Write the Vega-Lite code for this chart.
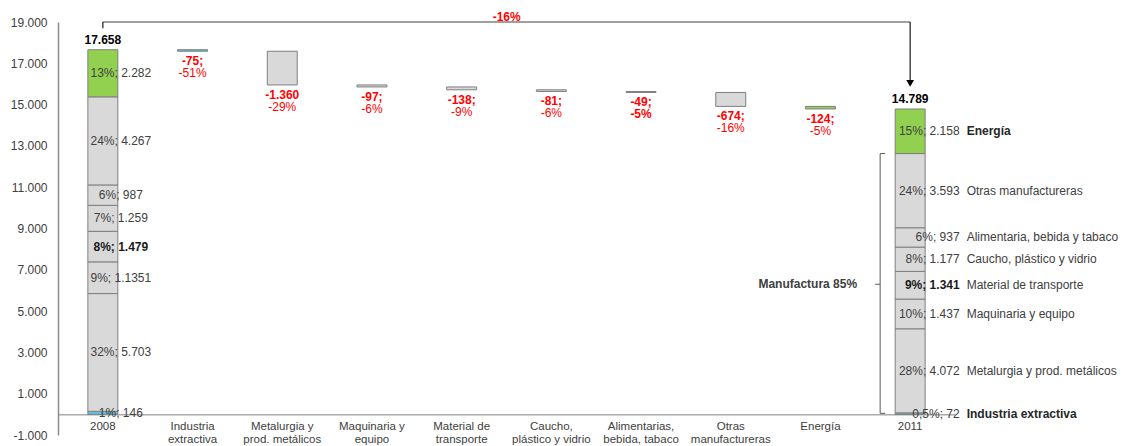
{
  "$schema": "https://vega.github.io/schema/vega-lite/v6.json",
  "width": 897,
  "height": 413,
  "autosize": {"type": "none"},
  "padding": {"left": 58, "top": 22, "right": 171, "bottom": 11},
  "background": "white",
  "config": {
    "font": "Liberation Sans",
    "view": {"stroke": null},
    "locale": {"number": {"decimal": ",", "thousands": ".", "grouping": [3], "currency": ["", " €"], "minus": "-"}},
    "text": {"font": "Liberation Sans", "fontSize": 12}
  },
  "datasets": {
    "segs": [
      {"cat": "2008", "sector": "Industria extractiva", "rank": 1, "value": 146, "label": "1%; 146", "name": ""},
      {"cat": "2008", "sector": "Metalurgia y prod. metálicos", "rank": 2, "value": 5703, "label": "32%; 5.703", "name": ""},
      {"cat": "2008", "sector": "Maquinaria y equipo", "rank": 3, "value": 1535, "label": "9%; 1.1351", "name": ""},
      {"cat": "2008", "sector": "Material de transporte", "rank": 4, "value": 1479, "label": "8%;  1.479", "name": ""},
      {"cat": "2008", "sector": "Caucho, plástico y vidrio", "rank": 5, "value": 1259, "label": "7%; 1.259", "name": ""},
      {"cat": "2008", "sector": "Alimentarias, bebida, tabaco", "rank": 6, "value": 987, "label": "6%; 987", "name": ""},
      {"cat": "2008", "sector": "Otras manufactureras", "rank": 7, "value": 4267, "label": "24%; 4.267", "name": ""},
      {"cat": "2008", "sector": "Energía", "rank": 8, "value": 2282, "label": "13%; 2.282", "name": ""},
      {"cat": "2011", "sector": "Industria extractiva", "rank": 1, "value": 72, "label": "0,5%; 72", "name": "Industria extractiva"},
      {"cat": "2011", "sector": "Metalurgia y prod. metálicos", "rank": 2, "value": 4072, "label": "28%; 4.072", "name": "Metalurgia y prod. metálicos"},
      {"cat": "2011", "sector": "Maquinaria y equipo", "rank": 3, "value": 1437, "label": "10%;  1.437", "name": "Maquinaria y equipo"},
      {"cat": "2011", "sector": "Material de transporte", "rank": 4, "value": 1341, "label": "9%;  1.341", "name": "Material de transporte"},
      {"cat": "2011", "sector": "Caucho, plástico y vidrio", "rank": 5, "value": 1177, "label": "8%;  1.177", "name": "Caucho, plástico y vidrio"},
      {"cat": "2011", "sector": "Alimentarias, bebida, tabaco", "rank": 6, "value": 937, "label": "6%;  937", "name": "Alimentaria, bebida y tabaco"},
      {"cat": "2011", "sector": "Otras manufactureras", "rank": 7, "value": 3593, "label": "24%; 3.593", "name": "Otras manufactureras"},
      {"cat": "2011", "sector": "Energía", "rank": 8, "value": 2158, "label": "15%; 2.158", "name": "Energía"}
    ],
    "deltas": [
      {"cat": "Industria extractiva", "from": 17658, "to": 17583, "v": "-75;", "pct": "-51%"},
      {"cat": "Metalurgia y prod. metálicos", "from": 17583, "to": 15952, "v": "-1.360", "pct": "-29%"},
      {"cat": "Maquinaria y equipo", "from": 15952, "to": 15855, "v": "-97;", "pct": "-6%"},
      {"cat": "Material de transporte", "from": 15855, "to": 15717, "v": "-138;", "pct": "-9%"},
      {"cat": "Caucho, plástico y vidrio", "from": 15717, "to": 15636, "v": "-81;", "pct": "-6%"},
      {"cat": "Alimentarias, bebida, tabaco", "from": 15636, "to": 15587, "v": "-49;", "pct": "-5%"},
      {"cat": "Otras manufactureras", "from": 15587, "to": 14913, "v": "-674;", "pct": "-16%"},
      {"cat": "Energía", "from": 14913, "to": 14789, "v": "-124;", "pct": "-5%"}
    ],
    "totals": [
      {"cat": "2008", "total": 17658, "label": "17.658"},
      {"cat": "2011", "total": 14789, "label": "14.789"}
    ],
    "connH": [{"cat": "2008", "b": "2011", "y": 19000}],
    "connV": [
      {"cat": "2008", "top": 19000, "bot": 18700},
      {"cat": "2011", "top": 19000, "bot": 16100}
    ],
    "arrow": [{"cat": "2011", "y": 16030}],
    "change": [{"cat": "Material de transporte", "y": 19000, "label": "-16%"}],
    "bracketV": [{"cat": "2011", "top": 12629, "bot": 50}],
    "bracketTicks": [{"cat": "2011", "y": 12629}, {"cat": "2011", "y": 50}],
    "bracketMid": [{"cat": "2011", "y": 6300, "label": "Manufactura 85%"}]
  },
  "layer": [
    {
      "data": {"name": "segs"},
      "transform": [{"stack": "value", "groupby": ["cat"], "sort": [{"field": "rank", "order": "ascending"}], "as": ["lo", "hi"]}],
      "mark": {"type": "bar", "stroke": "#7f7f7f", "strokeWidth": 1},
      "encoding": {
        "x": {
          "field": "cat", "type": "nominal",
          "scale": {"domain": ["2008", "Industria extractiva", "Metalurgia y prod. metálicos", "Maquinaria y equipo", "Material de transporte", "Caucho, plástico y vidrio", "Alimentarias, bebida, tabaco", "Otras manufactureras", "Energía", "2011"], "paddingInner": 0.666, "paddingOuter": 0.333},
          "axis": {
            "title": null, "orient": "bottom", "offset": -20.65, "domainColor": "#808080", "domainWidth": 1,
            "ticks": false, "labelPadding": 6, "labelFont": "Liberation Sans", "labelFontSize": 11.5, "labelColor": "#404040",
            "labelAngle": 0, "labelBaseline": "top", "labelAlign": "center", "labelLineHeight": 13, "labelOverlap": false, "labelLimit": 0,
            "labelExpr": "datum.value == 'Industria extractiva' ? ['Industria','extractiva'] : datum.value == 'Metalurgia y prod. metálicos' ? ['Metalurgia y','prod. metálicos'] : datum.value == 'Maquinaria y equipo' ? ['Maquinaria y','equipo'] : datum.value == 'Material de transporte' ? ['Material de','transporte'] : datum.value == 'Caucho, plástico y vidrio' ? ['Caucho,','plástico y vidrio'] : datum.value == 'Alimentarias, bebida, tabaco' ? ['Alimentarias,','bebida, tabaco'] : datum.value == 'Otras manufactureras' ? ['Otras','manufactureras'] : datum.label"
          }
        },
        "y": {
          "field": "lo", "type": "quantitative",
          "scale": {"domain": [-1000, 19000], "nice": false, "zero": false},
          "axis": {"title": null, "values": [-1000, 1000, 3000, 5000, 7000, 9000, 11000, 13000, 15000, 17000, 19000], "format": ",d", "ticks": false, "grid": false, "domainColor": "#8c8c8c", "domainWidth": 1.5, "labelPadding": 11, "labelFontSize": 12, "labelColor": "#404040", "labelFont": "Liberation Sans"}
        },
        "y2": {"field": "hi"},
        "color": {
          "field": "sector", "type": "nominal", "legend": null,
          "scale": {"domain": ["Industria extractiva", "Metalurgia y prod. metálicos", "Maquinaria y equipo", "Material de transporte", "Caucho, plástico y vidrio", "Alimentarias, bebida, tabaco", "Otras manufactureras", "Energía"], "range": ["#5bc5e5", "#d9d9d9", "#d9d9d9", "#d9d9d9", "#d9d9d9", "#d9d9d9", "#d9d9d9", "#92d050"]}
        }
      }
    },
    {
      "data": {"name": "deltas"},
      "mark": {"type": "bar", "stroke": "#7f7f7f", "strokeWidth": 1},
      "encoding": {
        "x": {"field": "cat", "type": "nominal"},
        "y": {"field": "from", "type": "quantitative"},
        "y2": {"field": "to"},
        "color": {"field": "cat", "type": "nominal", "legend": null}
      }
    },
    {
      "data": {"name": "segs"},
      "transform": [
        {"stack": "value", "groupby": ["cat"], "sort": [{"field": "rank", "order": "ascending"}], "as": ["lo", "hi"]},
        {"fold": ["lo", "hi"], "as": ["edge", "v"]},
        {"filter": "datum.cat == '2008' && datum.sector != 'Material de transporte'"}
      ],
      "mark": {"type": "text", "align": "center", "dx": 18, "baseline": "middle", "fontSize": 12, "color": "#404040"},
      "encoding": {
        "x": {"field": "cat", "type": "nominal"},
        "y": {"aggregate": "mean", "field": "v", "type": "quantitative"},
        "text": {"field": "label", "type": "nominal"},
        "detail": {"field": "sector", "type": "nominal"}
      }
    },
    {
      "data": {"name": "segs"},
      "transform": [
        {"stack": "value", "groupby": ["cat"], "sort": [{"field": "rank", "order": "ascending"}], "as": ["lo", "hi"]},
        {"fold": ["lo", "hi"], "as": ["edge", "v"]},
        {"filter": "datum.cat == '2008' && datum.sector == 'Material de transporte'"}
      ],
      "mark": {"type": "text", "align": "center", "dx": 18, "baseline": "middle", "fontSize": 12, "fontWeight": "bold", "color": "#1a1a1a"},
      "encoding": {
        "x": {"field": "cat", "type": "nominal"},
        "y": {"aggregate": "mean", "field": "v", "type": "quantitative"},
        "text": {"field": "label", "type": "nominal"},
        "detail": {"field": "sector", "type": "nominal"}
      }
    },
    {
      "data": {"name": "segs"},
      "transform": [
        {"stack": "value", "groupby": ["cat"], "sort": [{"field": "rank", "order": "ascending"}], "as": ["lo", "hi"]},
        {"fold": ["lo", "hi"], "as": ["edge", "v"]},
        {"filter": "datum.cat == '2011' && datum.sector != 'Material de transporte'"}
      ],
      "mark": {"type": "text", "align": "right", "dx": 49.5, "baseline": "middle", "fontSize": 12, "color": "#404040"},
      "encoding": {
        "x": {"field": "cat", "type": "nominal"},
        "y": {"aggregate": "mean", "field": "v", "type": "quantitative"},
        "text": {"field": "label", "type": "nominal"},
        "detail": {"field": "sector", "type": "nominal"}
      }
    },
    {
      "data": {"name": "segs"},
      "transform": [
        {"stack": "value", "groupby": ["cat"], "sort": [{"field": "rank", "order": "ascending"}], "as": ["lo", "hi"]},
        {"fold": ["lo", "hi"], "as": ["edge", "v"]},
        {"filter": "datum.cat == '2011' && datum.sector == 'Material de transporte'"}
      ],
      "mark": {"type": "text", "align": "right", "dx": 49.5, "baseline": "middle", "fontSize": 12, "fontWeight": "bold", "color": "#1a1a1a"},
      "encoding": {
        "x": {"field": "cat", "type": "nominal"},
        "y": {"aggregate": "mean", "field": "v", "type": "quantitative"},
        "text": {"field": "label", "type": "nominal"},
        "detail": {"field": "sector", "type": "nominal"}
      }
    },
    {
      "data": {"name": "segs"},
      "transform": [
        {"stack": "value", "groupby": ["cat"], "sort": [{"field": "rank", "order": "ascending"}], "as": ["lo", "hi"]},
        {"fold": ["lo", "hi"], "as": ["edge", "v"]},
        {"filter": "datum.cat == '2011' && datum.sector != 'Energía' && datum.sector != 'Industria extractiva'"}
      ],
      "mark": {"type": "text", "align": "left", "dx": 56.5, "baseline": "middle", "fontSize": 12, "color": "#404040"},
      "encoding": {
        "x": {"field": "cat", "type": "nominal"},
        "y": {"aggregate": "mean", "field": "v", "type": "quantitative"},
        "text": {"field": "name", "type": "nominal"},
        "detail": {"field": "sector", "type": "nominal"}
      }
    },
    {
      "data": {"name": "segs"},
      "transform": [
        {"stack": "value", "groupby": ["cat"], "sort": [{"field": "rank", "order": "ascending"}], "as": ["lo", "hi"]},
        {"fold": ["lo", "hi"], "as": ["edge", "v"]},
        {"filter": "datum.cat == '2011' && (datum.sector == 'Energía' || datum.sector == 'Industria extractiva')"}
      ],
      "mark": {"type": "text", "align": "left", "dx": 56.5, "baseline": "middle", "fontSize": 12, "fontWeight": "bold", "color": "#262626"},
      "encoding": {
        "x": {"field": "cat", "type": "nominal"},
        "y": {"aggregate": "mean", "field": "v", "type": "quantitative"},
        "text": {"field": "name", "type": "nominal"},
        "detail": {"field": "sector", "type": "nominal"}
      }
    },
    {
      "data": {"name": "deltas"},
      "mark": {"type": "text", "align": "center", "dy": 10, "baseline": "middle", "fontSize": 12, "fontWeight": "bold", "color": "#ff0000"},
      "encoding": {
        "x": {"field": "cat", "type": "nominal"},
        "y": {"field": "to", "type": "quantitative"},
        "text": {"field": "v", "type": "nominal"}
      }
    },
    {
      "data": {"name": "deltas"},
      "transform": [{"filter": "datum.cat != 'Alimentarias, bebida, tabaco'"}],
      "mark": {"type": "text", "align": "center", "dy": 22, "baseline": "middle", "fontSize": 12, "color": "#ff0000"},
      "encoding": {
        "x": {"field": "cat", "type": "nominal"},
        "y": {"field": "to", "type": "quantitative"},
        "text": {"field": "pct", "type": "nominal"}
      }
    },
    {
      "data": {"name": "deltas"},
      "transform": [{"filter": "datum.cat == 'Alimentarias, bebida, tabaco'"}],
      "mark": {"type": "text", "align": "center", "dy": 22, "baseline": "middle", "fontSize": 12, "fontWeight": "bold", "color": "#ff0000"},
      "encoding": {
        "x": {"field": "cat", "type": "nominal"},
        "y": {"field": "to", "type": "quantitative"},
        "text": {"field": "pct", "type": "nominal"}
      }
    },
    {
      "data": {"name": "totals"},
      "mark": {"type": "text", "align": "center", "dy": -10, "baseline": "middle", "fontSize": 12, "fontWeight": "bold", "color": "#000000"},
      "encoding": {
        "x": {"field": "cat", "type": "nominal"},
        "y": {"field": "total", "type": "quantitative"},
        "text": {"field": "label", "type": "nominal"}
      }
    },
    {
      "data": {"name": "connH"},
      "mark": {"type": "rule", "color": "#404040", "strokeWidth": 1.2},
      "encoding": {
        "x": {"field": "cat", "type": "nominal"},
        "x2": {"field": "b"},
        "y": {"field": "y", "type": "quantitative"}
      }
    },
    {
      "data": {"name": "connV"},
      "mark": {"type": "rule", "color": "#1a1a1a", "strokeWidth": 1.2},
      "encoding": {
        "x": {"field": "cat", "type": "nominal"},
        "y": {"field": "top", "type": "quantitative"},
        "y2": {"field": "bot"}
      }
    },
    {
      "data": {"name": "arrow"},
      "mark": {"type": "point", "shape": "triangle-down", "filled": true, "color": "#000000", "size": 60, "opacity": 1},
      "encoding": {
        "x": {"field": "cat", "type": "nominal"},
        "y": {"field": "y", "type": "quantitative"}
      }
    },
    {
      "data": {"name": "change"},
      "mark": {"type": "text", "align": "center", "dx": 45, "dy": -5, "baseline": "middle", "fontSize": 12, "fontWeight": "bold", "color": "#ff0000"},
      "encoding": {
        "x": {"field": "cat", "type": "nominal"},
        "y": {"field": "y", "type": "quantitative"},
        "text": {"field": "label", "type": "nominal"}
      }
    },
    {
      "data": {"name": "bracketV"},
      "mark": {"type": "rule", "color": "#595959", "strokeWidth": 1, "xOffset": -30},
      "encoding": {
        "x": {"field": "cat", "type": "nominal"},
        "y": {"field": "top", "type": "quantitative"},
        "y2": {"field": "bot"}
      }
    },
    {
      "data": {"name": "bracketTicks"},
      "mark": {"type": "rule", "color": "#595959", "strokeWidth": 1, "xOffset": -30, "x2Offset": -25},
      "encoding": {
        "x": {"field": "cat", "type": "nominal"},
        "x2": {"field": "cat"},
        "y": {"field": "y", "type": "quantitative"}
      }
    },
    {
      "data": {"name": "bracketMid"},
      "mark": {"type": "rule", "color": "#595959", "strokeWidth": 1, "xOffset": -35, "x2Offset": -30},
      "encoding": {
        "x": {"field": "cat", "type": "nominal"},
        "x2": {"field": "cat"},
        "y": {"field": "y", "type": "quantitative"}
      }
    },
    {
      "data": {"name": "bracketMid"},
      "mark": {"type": "text", "align": "right", "dx": -53, "baseline": "middle", "fontSize": 12, "fontWeight": "bold", "color": "#404040"},
      "encoding": {
        "x": {"field": "cat", "type": "nominal"},
        "y": {"field": "y", "type": "quantitative"},
        "text": {"field": "label", "type": "nominal"}
      }
    }
  ]
}
